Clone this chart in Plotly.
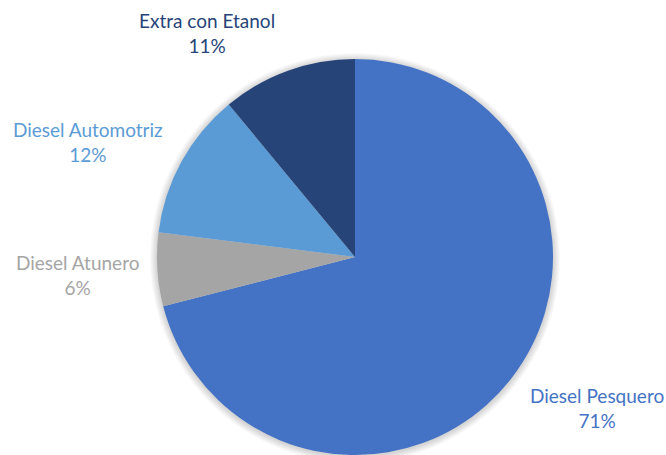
import plotly.graph_objects as go

# Fuel share by product (percent)
labels = ["Diesel Pesquero", "Diesel Atunero", "Diesel Automotriz", "Extra con Etanol"]
shares = [71, 6, 12, 11]
colors = ["#4472C4", "#A5A5A5", "#5B9BD5", "#264478"]

# Label anchor points (pixel positions of each text block centre)
label_px = [(597, 408), (77, 275), (88, 142), (207, 33)]

W, H = 666, 455
CX, CY, R = 355, 257, 198

fig = go.Figure(
    go.Pie(
        labels=labels,
        values=shares,
        sort=False,
        direction="clockwise",
        rotation=0,
        marker=dict(colors=colors, line=dict(width=0)),
        textinfo="none",
        hoverinfo="label+percent",
        showlegend=False,
        domain=dict(
            x=[(CX - R) / W, (CX + R) / W],
            y=[1 - (CY + R) / H, 1 - (CY - R) / H],
        ),
    )
)

# soft shadow around the pie
shapes = []
for k in range(1, 8):
    rr = R + k
    shapes.append(
        dict(
            type="circle", xref="paper", yref="paper", layer="below",
            x0=(CX - rr) / W, x1=(CX + rr) / W,
            y0=1 - (CY + 1 + rr) / H, y1=1 - (CY + 1 - rr) / H,
            fillcolor="rgba(0,0,0,0.025)", line=dict(width=0),
        )
    )

annotations = []
for lab, val, col, (px, py) in zip(labels, shares, colors, label_px):
    annotations.append(
        dict(
            text=f"{lab}<br>{val}%",
            x=px / W, y=1 - py / H, xref="paper", yref="paper",
            xanchor="center", yanchor="middle", showarrow=False,
            font=dict(family="Lato", size=19, color=col),
            align="center",
        )
    )

fig.update_layout(
    width=W, height=H,
    margin=dict(l=0, r=0, t=0, b=0),
    paper_bgcolor="white", plot_bgcolor="white",
    shapes=shapes, annotations=annotations,
)

fig.write_html("out.html")
